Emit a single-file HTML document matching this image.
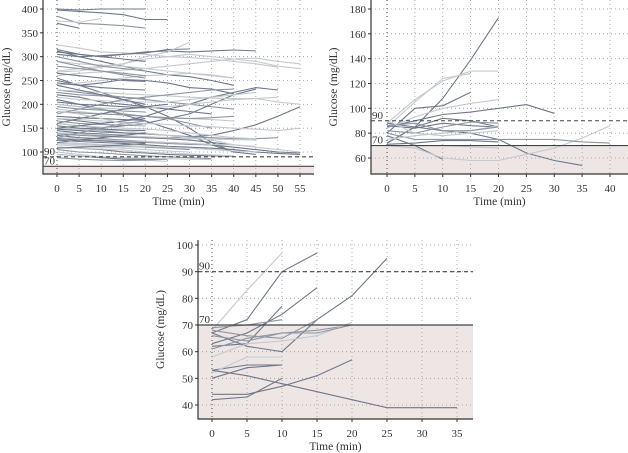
<!DOCTYPE html>
<html><head><meta charset="utf-8"><style>
html,body{margin:0;padding:0;background:#fff}
svg{display:block;font-family:"Liberation Serif",serif}
</style></head><body>
<svg id="c" width="628" height="453" viewBox="0 0 628 453"></svg>
<script>
// ---------- DATA (values every 5 min starting at t=0) ----------
const xTicks1 = [0,5,10,15,20,25,30,35,40,45,50,55];
const yTicks1 = [100,150,200,250,300,350,400];
const series1 = [
[400,398,400,400,400],[385,370,368,365,360],[375,372,380],[370,360],[398,395,392,388,378,378],
[325,318,310,308,305,300,298,295,290,285,278],[312,300,302,305,308,315,316],[305,300,290,280,270,262,258,250,240],
[310,305,300,305,310,312,310,312,314,312],[270,275,280,285,300,310,330],[268,270,278,285,295,300,305,300,295,290,280,275],
[255,240,225,210,195,175,150,120,100],[250,240,245,252,250,245,235,232,222],[230,225,220,215,210,205,200,195,190],
[220,215,205,200,195,190,185,180],[210,200,190,178,165,150,135,115,100,95],[200,195,190,180,175,170,160,150],
[190,185,180,178,175,172,170,168,165],[140,138,135,132,130,130,132,135,145,157,175,195],
[170,165,160,165,175,190,200,215,225,235,230],[160,155,150,155,160,170,180,200,220,232],
[150,148,145,140,138,135,132,130,128,128,130],[145,140,138,135,130,128,125,120,115],
[135,130,128,125,122,120,118,115,110,105,100,98],[130,128,125,122,120,118,116,115],
[125,122,120,118,115,112,110,108,105,100,97,95],[120,118,115,112,110,108,105],[115,112,110,108,105,102,100],
[110,108,105,100,98,95,93,92,91],[105,100,98,95,92,90,88,86],[100,95,90,85,83,80],[95,92,88,85,85,85],[88,85,83,82,83,85],
[290,285,282,280,275,270,265,260,255],[240,245,250,255,260,262,265,262,255],[230,228,225,222,220,218,215,213,212,212,205,200],
[215,210,208,205,205,205,210,215,220,225],[200,195,192,190,192,195,200,205,210,212,215],[185,182,180,178,175,172,170,172,175],
[170,168,165,162,160,158,155,153,150,148,145,150],[160,155,152,150,148,145,140,135,130,128],
[150,148,146,145,140,135,130,125,115,110,105,100],[140,138,136,134,132,130,128,127,126,125],
[130,128,126,124,122,120,118,116,115,112],[120,118,116,114,112,110,108,105,102,100],[110,108,106,104,100,98,96,94,92],
[95,92,90,88,87,86,85,84],[260,265,268,272,275,280,285,290,295,297,290,285],[180,190,200,210,215,220,225,230,232],
[160,170,180,190,195,200],[280,275,270,265,260],[265,260,255,250,248],[245,240,235,232,230],[225,220,218,215,212],
[205,200,198,195,193],[195,190,188,186,184],[175,172,170,168,166],[165,160,158,156,155],[155,150,148,146,145],
[148,145,142,140,138],[138,135,133,131,130],[128,125,123,121,120],[118,115,113,111,110],[108,110,112,115,118],
[150,155,160,165,170],[130,140,150,160,165],[120,125,130,135,140],[185,180,170,160,155],[240,230,220,210,200],
[300,290,280,275,270],[315,305,300,295,290],[290,280,270,262,255]
];
const xTicks2 = [0,5,10,15,20,25,30,35,40];
const yTicks2 = [60,80,100,120,140,160,180];
const series2 = [
[72,85,108,139,173],[88,107,122,130,130],[85,105,124,128],[80,100,102,113],[85,90,95,97,100,103,96],
[84,93,100,104,107],[72,85,92,90,85],[88,85,82,80,75,64,58,54],[78,70,59],[70,68,60,58,58,63,68,76,86],
[80,75,75,75,75,75,75,73,72],[86,84,88,86,85],[82,80,85,89,88],[75,78,80,82,86],[71,72,74,74,73],
[70,70,70,69,68],[86,88,82,82,85],[90,80,78,80,82]
];
const xTicks3 = [0,5,10,15,20,25,30,35];
const yTicks3 = [40,50,60,70,80,90,100];
const series3 = [
[68,83,97],[67,72,90,97],[62,63,77],[63,67,74,84],[53,55,55],[52,58,58],[67,62,60,72,81,95],
[44,44,47,51,57],[42,43,50],[53,51,48,45,42,39,39,39],[68,66,65,72],[61,65,67,68,70],[58,63,64,66,71],
[69,70,72],[66,64,67,67,70],[50,54,55]
];
// shade index per series: 0 dark, 1 mid, 2 light
const shade1 = series1.map((s,i)=>[0,1,2,0,0,2,0,0,0,2,2,0,0,1,0,0,1,2,0,0,0,1,0,0,1,0,1,2,0,1,2,0,1,2,2,2,2,2,1,2,2,2,2,2,2,2,2,2,1,0,1,0,0,1,0,1,0,1,0,0,1,0,2,0,0,1,0,2,0,1,0][i]??1);
const shade2 = [0,2,2,0,0,2,0,0,0,2,1,0,1,2,0,2,1,2];
const shade3 = [2,0,0,0,0,2,0,0,0,0,1,1,2,1,1,0];
const colors = ['#6f7889','#8e96a3','#c5c9cf'];

const svg = document.getElementById('c');
const NS = 'http://www.w3.org/2000/svg';
function el(tag, attrs, parent){const e=document.createElementNS(NS,tag);for(const k in attrs)e.setAttribute(k,attrs[k]);(parent||svg).appendChild(e);return e;}

function panel(p, series, shades, xTicks, yTicks){
  const g = el('g',{});
  
  
  const X = t => p.x0 + (t - xTicks[0])/(xTicks[xTicks.length-1]-xTicks[0])*(p.x1-p.x0);
  const Y = v => p.y0 + (v - yTicks[0])/(yTicks[yTicks.length-1]-yTicks[0])*(p.y1-p.y0);
  const sh = el('rect',{x:p.ax,y:Y(70),width:p.right-p.ax,height:p.bottom-Y(70),fill:'#ede6e4'},g);
   
  xTicks.forEach(t=>{const l=el('line',{x1:X(t),x2:X(t),y1:p.top,y2:p.bottom,stroke:t===0?'#333':'#999','stroke-width':t===0?0.9:0.8,'stroke-dasharray':'1,3'},g);
     });
  yTicks.forEach(v=>{const l=el('line',{x1:p.ax,x2:p.right,y1:Y(v),y2:Y(v),stroke:'#999','stroke-width':0.8,'stroke-dasharray':'1,3'},g);
     });
  series.forEach((s,i)=>{
    const pts = s.map((v,j)=>X(j*5).toFixed(1)+','+Y(v).toFixed(1)).join(' ');
    const pl = el('polyline',{points:pts,fill:'none',stroke:colors[shades[i]??1],'stroke-width':1.1},g);
     
  });
  const d90 = el('line',{x1:p.ax,x2:p.right,y1:Y(90),y2:Y(90),stroke:'#444','stroke-width':1.1,'stroke-dasharray':'4,3'},g);
   
  const d70 = el('line',{x1:p.ax,x2:p.right,y1:Y(70),y2:Y(70),stroke:'#444','stroke-width':1.2},g);
   
  const t90 = el('text',{x:p.ax+1,y:Y(90)-2,'font-size':11,fill:'#333'},g); t90.textContent='90';
   
  const t70 = el('text',{x:p.ax+1,y:Y(70)-2,'font-size':11,fill:'#333'},g); t70.textContent='70';
   
  const ax = el('path',{d:`M${p.ax},${p.top}V${p.bottom}H${p.right}`,fill:'none',stroke:'#333','stroke-width':1.2},g);
   
  xTicks.forEach(t=>{el('line',{x1:X(t),x2:X(t),y1:p.bottom,y2:p.bottom+3,stroke:'#333'},g);
    const tx=el('text',{x:X(t),y:p.bottom+18,'font-size':11,'text-anchor':'middle',fill:'#333'},g); tx.textContent=t;
     });
  yTicks.forEach(v=>{el('line',{x1:p.ax-3,x2:p.ax,y1:Y(v),y2:Y(v),stroke:'#333'},g);
    const tx=el('text',{x:p.ax-5,y:Y(v)+4,'font-size':11,'text-anchor':'end',fill:'#333'},g); tx.textContent=v;
     });
  const xt = el('text',{x:(p.ax+p.right)/2,y:p.bottom+31,'font-size':11.5,'text-anchor':'middle',fill:'#333'},g); xt.textContent='Time (min)';
   
  const cy=(p.top+p.bottom)/2;
  const yt = el('text',{x:p.ytx,y:cy,'font-size':11.5,'text-anchor':'middle',fill:'#333',transform:`rotate(-90 ${p.ytx} ${cy})`},g); yt.textContent='Glucose (mg/dL)';
   
}

panel({name:'panel-a',ax:43,right:314,top:0,bottom:174,x0:57,x1:300,y0:152,y1:9,ytx:10},series1,shade1,xTicks1,yTicks1);
panel({name:'panel-b',ax:371,right:628,top:0,bottom:174,x0:387,x1:610,y0:158,y1:9,ytx:337},series2,shade2,xTicks2,yTicks2);
panel({name:'panel-c',ax:198,right:473,top:240,bottom:419,x0:212,x1:457,y0:405,y1:245,ytx:164},series3,shade3,xTicks3,yTicks3);
</script>
</body></html>
